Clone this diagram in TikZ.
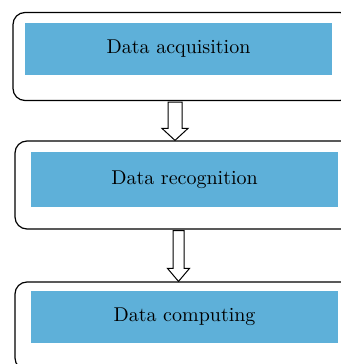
\documentclass[tikz,border=0pt]{standalone}
\usetikzlibrary{calc}
\definecolor{stepblue}{RGB}{94,176,217}
\tikzset{
    outerbox/.style = {rectangle, rounded corners=6pt, draw=black, line width=0.6pt, minimum width=169.5pt, minimum height=44pt},
    bluebox/.style = {rectangle, fill=stepblue, minimum width=153.5pt, inner sep=0pt},
    blockarr/.style = {draw=black, line width=0.5pt, fill=white, line join=miter},
}

\begin{document}
\begin{tikzpicture}[x=0.5pt,y=-0.5pt]
\useasboundingbox (0,0) rectangle (341,364);
\clip (0,0) rectangle (341,364);
%
\node[outerbox] at (182.5,56.5) (acqbox) {};
\node[outerbox] at (184.5,185) (recbox) {};
\node[outerbox] at (184.5,326) (compbox) {};
%
\node[bluebox, minimum height=26pt] at (178.5,49) (acq) {Data acquisition};
\node[bluebox, minimum height=27.5pt] at (184.5,179.5) (rec) {Data recognition};
\node[bluebox, minimum height=26pt] at (184.5,317) (comp) {Data computing};
%
\coordinate (s1) at (acqbox.south -| 175,0);
\coordinate (e1) at (recbox.north -| 175,0);
\coordinate (s2) at (recbox.south -| 178.5,0);
\coordinate (e2) at (compbox.north -| 178.5,0);
%
\draw[blockarr] ($(s1)+(-7,1)$) -- ($(e1)+(-7,-12)$) -- ($(e1)+(-13,-12)$) -- (e1)
    -- ($(e1)+(13,-12)$) -- ($(e1)+(7,-12)$) -- ($(s1)+(7,1)$) -- cycle;
\draw[blockarr] ($(s2)+(-5.5,1)$) -- ($(e2)+(-5.5,-13)$) -- ($(e2)+(-11,-13)$) -- (e2)
    -- ($(e2)+(11,-13)$) -- ($(e2)+(5.5,-13)$) -- ($(s2)+(5.5,1)$) -- cycle;

\end{tikzpicture}
\end{document}
